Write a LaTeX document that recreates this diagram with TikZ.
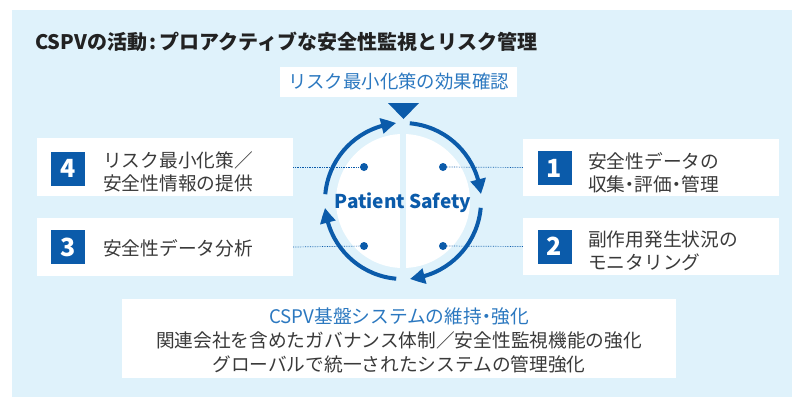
\documentclass[tikz,border=0pt]{standalone}
\usepackage{fontspec}
\setmainfont{Noto Sans CJK JP}
\usetikzlibrary{arrows.meta,bending,calc}
\definecolor{bgblue}{HTML}{DFF2FB}
\definecolor{dkblue}{HTML}{0B5BAA}
\definecolor{lblue}{HTML}{2B78C0}
\definecolor{txtgray}{HTML}{3A3A3A}
\definecolor{ttlgray}{HTML}{222222}
\newcommand{\hdot}{\makebox[0.5em]{・}}
\tikzset{
  x=1pt,y=1pt,
  whitebox/.style={rectangle,fill=white,inner sep=0pt,minimum width=256pt,minimum height=57pt},
  numbox/.style={rectangle,fill=dkblue,inner sep=0pt,minimum width=34pt,minimum height=34pt,text=white,font=\fontsize{25pt}{25pt}\selectfont\bfseries},
  boxtext/.style={anchor=west,inner sep=0pt,align=left,text=txtgray,font=\fontsize{18.7pt}{23pt}\selectfont},
  dot/.style={circle,fill=dkblue,inner sep=0pt,minimum size=8pt},
  dotline/.style={dkblue,line width=0.7pt,densely dotted},
  ringarc/.style={dkblue,line width=4pt,-{Triangle[length=15pt,width=15pt,bend]}},
}
\begin{document}
\begin{tikzpicture}
\useasboundingbox (0,0) rectangle (792,-397);
\fill[bgblue] (12,-10) rectangle (792,-397);
% title
\node[anchor=west,inner sep=0pt,text=ttlgray,font=\fontsize{20pt}{20pt}\selectfont\bfseries] (title) at (35,-42) {CSPVの活動\makebox[0.6em]{:}プロアクティブな安全性監視とリスク管理};
% top label
\node[rectangle,fill=white,inner sep=0pt,minimum width=237pt,minimum height=30pt,text=lblue,font=\fontsize{18.4pt}{18.4pt}\selectfont] (top) at (398.5,-82) {リスク最小化策の効果確認};
\fill[dkblue] (388,-103) -- (419,-103) -- (403.5,-119) -- cycle;
% center disk
\coordinate (c) at (403,-201);
\fill[white] (c) circle[radius=67];
\draw[bgblue,line width=6pt] (403,-132) -- (403,-270);
% ring arcs
\draw[ringarc] ($(c)+(175:78)$) arc[start angle=175,end angle=95,radius=78];
\draw[ringarc] ($(c)+(85:78)$) arc[start angle=85,end angle=5,radius=78];
\draw[ringarc] ($(c)+(-5:78)$) arc[start angle=-5,end angle=-85,radius=78];
\draw[ringarc] ($(c)+(-95:78)$) arc[start angle=-95,end angle=-175,radius=78];
\node[text=dkblue,inner sep=0pt,font=\fontsize{19pt}{19pt}\selectfont\bfseries] (ps) at (403,-203) {Patient Safety};
% dots
\node[dot] (d4) at (364,-167) {};
\node[dot] (d1) at (443,-167) {};
\node[dot] (d3) at (364,-246) {};
\node[dot] (d2) at (443,-246) {};
% left boxes
\node[whitebox,minimum height=58pt] (b4) at (165,-167) {};
\node[numbox] (n4) at (68,-168.5) {4};
\node[boxtext] (t4) at (103,-171.5) {リスク最小化策／\\安全性情報の提供};
\node[whitebox,minimum height=58pt] (b3) at (165,-247) {};
\node[numbox] (n3) at (68,-247) {3};
\node[boxtext] (t3) at (103,-248) {安全性データ分析};
% right boxes
\node[whitebox] (b1) at (651,-167.5) {};
\node[numbox] (n1) at (554.5,-168) {1};
\node[boxtext] (t1) at (588,-172.5) {安全性データの\\収集\hdot 評価\hdot 管理};
\node[whitebox] (b2) at (651,-246.5) {};
\node[numbox] (n2) at (554.5,-246.5) {2};
\node[boxtext] (t2) at (588,-251) {副作用発生状況の\\モニタリング};
% dotted connectors
\draw[dotline] (b4.east) -- (d4);
\draw[dotline] (b3.east) -- (d3);
\draw[dotline] (b1.west) -- (d1);
\draw[dotline] (b2.west) -- (d2);
% bottom box
\node[rectangle,fill=white,inner sep=0pt,minimum width=554pt,minimum height=79pt] (bot) at (399,-338.5) {};
\node[inner sep=0pt,align=center,text=txtgray,font=\fontsize{18.7pt}{24pt}\selectfont] (bottxt) at (399,-340) {\textcolor{lblue}{CSPV基盤システムの維持\hdot 強化}\\関連会社を含めたガバナンス体制／安全性監視機能の強化\\グローバルで統一されたシステムの管理強化};
\end{tikzpicture}
\end{document}
